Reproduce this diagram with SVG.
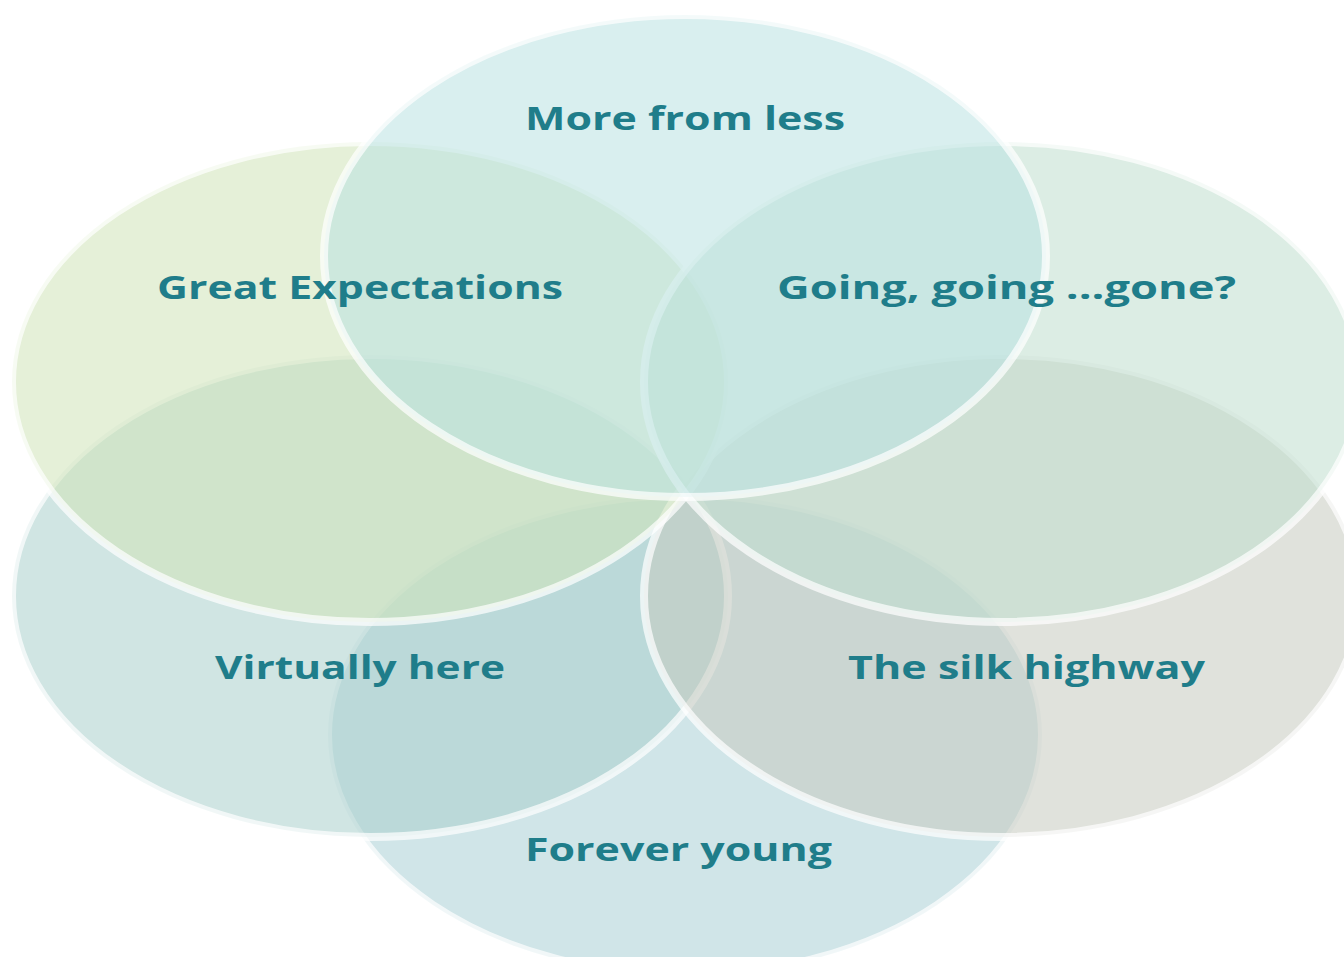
<svg xmlns="http://www.w3.org/2000/svg" width="1344" height="957" viewBox="0 0 1344 957">
<style>
.bub{fill-opacity:0.55;stroke:#ffffff;stroke-opacity:0.7;stroke-width:8}
.lbl{font-family:"Open Sans","Noto Sans","Liberation Sans",sans-serif;font-weight:700;font-size:32px;fill:#1f7d8a}
</style>
<rect width="1344" height="957" fill="#ffffff"/>
<g id="nodes">
<g id="node-forever-young"><ellipse class="bub" cx="685" cy="735" rx="357" ry="240" fill="#aad0d5"/></g>
<g id="node-virtually-here"><ellipse class="bub" cx="370" cy="596" rx="358" ry="241" fill="#aad0cc"/></g>
<g id="node-silk-highway"><ellipse class="bub" cx="1002" cy="596" rx="358" ry="241" fill="#c7cabf"/></g>
<g id="node-great-expectations"><ellipse class="bub" cx="370" cy="382" rx="358" ry="240" fill="#d0e4b8"/></g>
<g id="node-going-gone"><ellipse class="bub" cx="1002" cy="382" rx="358" ry="240" fill="#bfdece"/></g>
<g id="node-more-from-less"><ellipse class="bub" cx="685" cy="256" rx="361" ry="241" fill="#bae2e2"/></g>
</g>
<g id="labels">
<text id="label-more-from-less" class="lbl" x="525" y="130" textLength="320" lengthAdjust="spacingAndGlyphs">More from less</text>
<text id="label-great-expectations" class="lbl" x="157" y="299" textLength="406" lengthAdjust="spacingAndGlyphs">Great Expectations</text>
<text id="label-going-gone" class="lbl" x="777" y="299" textLength="459" lengthAdjust="spacingAndGlyphs">Going, going ...gone?</text>
<text id="label-virtually-here" class="lbl" x="215" y="679" textLength="290" lengthAdjust="spacingAndGlyphs">Virtually here</text>
<text id="label-silk-highway" class="lbl" x="848" y="679" textLength="357" lengthAdjust="spacingAndGlyphs">The silk highway</text>
<text id="label-forever-young" class="lbl" x="525" y="861" textLength="307" lengthAdjust="spacingAndGlyphs">Forever young</text>
</g>
</svg>
